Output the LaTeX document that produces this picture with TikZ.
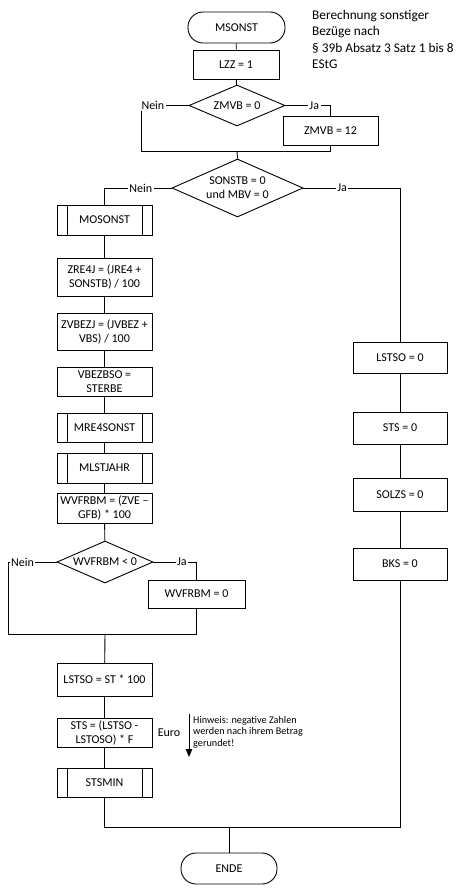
\documentclass[tikz,border=0pt]{standalone}
\usepackage{fontspec}
\setmainfont{Carlito}
\usepackage{tikz}
\usetikzlibrary{arrows.meta,shapes.geometric,calc}
\newcommand{\boxfont}{\fontsize{12}{14}\selectfont}
\newcommand{\notefont}{\fontsize{13.3}{16.5}\selectfont}
\newcommand{\hintfont}{\fontsize{10.2}{11.7}\selectfont}
\tikzset{
  >={Triangle[length=8pt,width=6.5pt]},
  fline/.style={black, line width=0.9pt},
  fterm/.style={rectangle, rounded corners=15pt, draw=black, line width=0.9pt,
                minimum width=97pt, minimum height=31pt, font=\boxfont},
  fbox/.style={rectangle, draw=black, line width=0.9pt, fill=white,
               minimum width=95pt, minimum height=30pt, inner sep=2pt,
               align=center, font=\boxfont},
  fsub/.style={fbox, path picture={
      \draw[line width=0.9pt]
        ([xshift=10pt]path picture bounding box.north west) --
        ([xshift=10pt]path picture bounding box.south west)
        ([xshift=-10pt]path picture bounding box.north east) --
        ([xshift=-10pt]path picture bounding box.south east);}},
  fdec/.style={diamond, draw=black, line width=0.9pt, shape aspect=2.3,
               inner sep=0pt, align=center, font=\boxfont},
  flbl/.style={fill=white, inner sep=1.5pt, font=\boxfont},
  fnote/.style={inner sep=0pt, align=left, font=\notefont},
  fhint/.style={inner sep=0pt, align=left, font=\hintfont},
}

\begin{document}
\begin{tikzpicture}[x=1pt,y=-1pt]
  \useasboundingbox (0,0) rectangle (467,891);

  % Kopf
  \node[fterm] (start) at (236.5,27.5) {MSONST};
  \node[fbox, minimum width=86pt, minimum height=29pt] (lzz) at (236,64.5) {LZZ = 1};
  \node[fnote, anchor=north west] (titel) at (312,10) {Berechnung sonstiger\\Bezüge nach\\§ 39b Absatz 3 Satz 1 bis 8\\EStG};
  \node[fdec, minimum width=96pt, minimum height=41pt] (zmvbq) at (237,105.5) {ZMVB = 0};
  \node[fbox, minimum height=29pt] (zmvb) at (330.5,130.5) {ZMVB = 12};
  \coordinate (n1) at (141,151);
  \coordinate (m1) at (237,151);
  \node[fdec, minimum width=131pt, minimum height=58pt] (sonstq) at (237.5,188) {SONSTB = 0\\und MBV = 0};

  % linker Zweig
  \node[fsub] (mosonst) at (104.5,220) {MOSONST};
  \node[fbox, minimum height=38pt] (zre4j) at (104.5,277) {ZRE4J = (JRE4 +\\SONSTB) / 100};
  \node[fbox, minimum height=37pt] (zvbezj) at (104.5,331.5) {ZVBEZJ = (JVBEZ +\\VBS) / 100};
  \node[fbox, minimum height=29pt] (vbezbso) at (104.5,381.5) {VBEZBSO =\\STERBE};
  \node[fsub, minimum height=29pt] (mre4) at (104.5,427.5) {MRE4SONST};
  \node[fsub] (mlst) at (104.5,468) {MLSTJAHR};
  \node[fbox] (wvf) at (104.5,508) {WVFRBM = (ZVE --\\GFB) * 100};
  \node[fdec, minimum width=96pt, minimum height=42pt] (wvfq) at (105,562) {WVFRBM < 0};
  \node[fbox, minimum width=97pt, minimum height=28pt] (wvf0) at (196.5,594) {WVFRBM = 0};
  \coordinate (n3) at (8,634);
  \coordinate (m3) at (105,634);
  \node[fbox, minimum height=33pt] (lstso) at (104.5,679.5) {LSTSO = ST * 100};
  \node[fbox, minimum height=29pt] (sts) at (104.5,732.5) {STS = (LSTSO -\\LSTOSO) * F};
  \node[fsub, minimum height=29pt] (stsmin) at (104.5,782.5) {STSMIN};
  \node[font=\boxfont] (euro) at (169,733) {Euro};
  \coordinate (pa) at (189,714);
  \coordinate (pb) at (189,757);
  \node[fhint, anchor=north west] (hinweis) at (193,716) {Hinweis: negative Zahlen\\werden nach ihrem Betrag\\gerundet!};

  % rechter Zweig
  \node[fbox, minimum width=94pt, minimum height=31pt] (lstso0) at (400,357.5) {LSTSO = 0};
  \node[fbox, minimum width=94pt, minimum height=32pt] (sts0) at (400,428) {STS = 0};
  \node[fbox, minimum width=94pt, minimum height=33pt] (solzs0) at (400,494.5) {SOLZS = 0};
  \node[fbox, minimum width=94pt, minimum height=32pt] (bks0) at (400,564) {BKS = 0};

  \coordinate (m4) at (229,827);
  \node[fterm, minimum width=96pt] (ende) at (229,868.5) {ENDE};

  % Verbindungen
  \draw[fline] (start) -- (lzz);
  \draw[fline] (lzz) -- (zmvbq);
  \draw[fline] (zmvbq.west) -| node[flbl, pos=0.375] {Nein} (n1) -- (m1);
  \draw[fline] (zmvbq.east) -| node[flbl, pos=0.32] {Ja} (zmvb.north);
  \draw[fline] (zmvb.south) |- (m1);
  \draw[fline] (m1) -- (sonstq.north);
  \draw[fline] (sonstq.west) -| node[flbl, pos=0.23] {Nein} (mosonst.north);
  \draw[fline] (sonstq.east) -| node[flbl, pos=0.2] {Ja} (lstso0.north);

  \draw[fline] (mosonst) -- (zre4j);
  \draw[fline] (zre4j) -- (zvbezj);
  \draw[fline] (zvbezj) -- (vbezbso);
  \draw[fline] (vbezbso) -- (mre4);
  \draw[fline] (mre4) -- (mlst);
  \draw[fline] (mlst) -- (wvf);
  \draw[fline] (wvf) -- (wvfq);
  \draw[fline] (wvfq.west) -| node[flbl, pos=0.35] {Nein} (n3) -- (m3);
  \draw[fline] (wvfq.east) -| node[flbl, pos=0.33] {Ja} (wvf0.north);
  \draw[fline] (wvf0.south) |- (m3);
  \draw[fline] (m3) -- (lstso);
  \draw[fline] (lstso) -- (sts);
  \draw[fline] (sts) -- (stsmin);
  \draw[fline, ->] (pa) -- (pb);

  \draw[fline] (lstso0) -- (sts0);
  \draw[fline] (sts0) -- (solzs0);
  \draw[fline] (solzs0) -- (bks0);

  \draw[fline] (stsmin.south) |- (m4);
  \draw[fline] (bks0.south) |- (m4);
  \draw[fline] (m4) -- (ende);

\end{tikzpicture}
\end{document}
